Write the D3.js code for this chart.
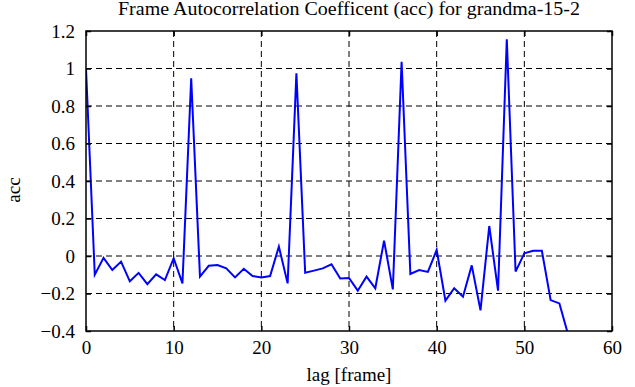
<!DOCTYPE html>
<html>
<head>
<meta charset="utf-8">
<script src="https://cdn.jsdelivr.net/npm/d3@7"></script>
<style>
  body { margin: 0; background: #fff; }
  text { font-family: "Liberation Serif", "Times New Roman", serif; fill: #000; }
</style>
</head>
<body>
<div id="chart"></div>
<script>
// lag values 0..55 and the autocorrelation
const lags = d3.range(0, 56)
const acc = [
  1.0, -0.10, -0.01, -0.075, -0.03, -0.135, -0.09, -0.15, -0.098, -0.128,
  -0.012, -0.146, 0.948, -0.11, -0.052, -0.048, -0.066, -0.114, -0.068, -0.107,
  -0.114, -0.107, 0.05, -0.146, 0.974, -0.089, -0.078, -0.066, -0.044, -0.12,
  -0.117, -0.185, -0.11, -0.172, 0.082, -0.178, 1.036, -0.096, -0.075, -0.085,
  0.032, -0.238, -0.172, -0.217, -0.05, -0.29, 0.16, -0.185, 1.156, -0.083,
  0.014, 0.028, 0.028, -0.235, -0.253, -0.42
]
const xTicks = [0, 10, 20, 30, 40, 50, 60]
const yTicks = [-0.4, -0.2, 0, 0.2, 0.4, 0.6, 0.8, 1, 1.2]

const width = 635
const height = 387
const margin = { top: 31, right: 23, bottom: 56, left: 86 }
const w = width - margin.left - margin.right
const h = height - margin.top - margin.bottom

const svg = d3.select('#chart').append('svg')
  .attr('width', width)
  .attr('height', height)

const x = d3.scaleLinear().domain([0, 60]).range([0, w])
const y = d3.scaleLinear().domain([-0.4, 1.2]).range([h, 0])

const g = svg.append('g')
  .attr('transform', `translate(${margin.left},${margin.top})`)

svg.append('defs').append('clipPath').attr('id', 'clip')
  .append('rect').attr('width', w).attr('height', h)

// dashed grid
g.append('g').selectAll('line')
  .data(xTicks.slice(1, -1))
  .join('line')
  .attr('x1', d => x(d)).attr('x2', d => x(d))
  .attr('y1', 0).attr('y2', h)
  .attr('stroke', '#000').attr('stroke-dasharray', '6,4')
g.append('g').selectAll('line')
  .data(yTicks.slice(1, -1))
  .join('line')
  .attr('x1', 0).attr('x2', w)
  .attr('y1', d => y(d)).attr('y2', d => y(d))
  .attr('stroke', '#000').attr('stroke-dasharray', '6,4')

// data line
const line = d3.line().x((d, i) => x(lags[i])).y(d => y(d))
g.append('path')
  .datum(acc)
  .attr('clip-path', 'url(#clip)')
  .attr('fill', 'none')
  .attr('stroke', '#0000ff')
  .attr('stroke-width', 2)
  .attr('d', line)

// axes with inward ticks on all sides
const fmt = d => d3.format('')(+d.toFixed(1))
const style = sel => {
  sel.select('.domain').remove()
  sel.selectAll('.tick line').attr('stroke', '#000').attr('stroke-width', 1.5)
  sel.selectAll('text').style('font-size', '19px').style('font-family', '"Liberation Serif", serif')
}
g.append('g').attr('transform', `translate(0,${h})`)
  .call(d3.axisBottom(x).tickValues(xTicks).tickSizeInner(-5).tickSizeOuter(0).tickPadding(10))
  .call(style)
g.append('g')
  .call(d3.axisTop(x).tickValues(xTicks).tickSizeInner(-5).tickSizeOuter(0).tickFormat(''))
  .call(style)
g.append('g')
  .call(d3.axisLeft(y).tickValues(yTicks).tickSizeInner(-5).tickSizeOuter(0).tickPadding(11).tickFormat(fmt))
  .call(style)
g.append('g').attr('transform', `translate(${w},0)`)
  .call(d3.axisRight(y).tickValues(yTicks).tickSizeInner(-5).tickSizeOuter(0).tickFormat(''))
  .call(style)

// frame
g.append('rect')
  .attr('width', w).attr('height', h)
  .attr('fill', 'none').attr('stroke', '#000').attr('stroke-width', 1.5)

svg.append('text')
  .attr('x', margin.left + w / 2).attr('y', 15)
  .attr('text-anchor', 'middle')
  .attr('textLength', 462)
  .attr('lengthAdjust', 'spacingAndGlyphs')
  .style('font-size', '18px')
  .text('Frame Autocorrelation Coefficent (acc) for grandma-15-2')

svg.append('text')
  .attr('x', margin.left + w / 2).attr('y', 381)
  .attr('text-anchor', 'middle')
  .style('font-size', '19px')
  .text('lag [frame]')

svg.append('text')
  .attr('transform', `translate(20,${margin.top + h / 2 + 9}) rotate(-90)`)
  .attr('text-anchor', 'middle')
  .style('font-size', '19px')
  .text('acc')
</script>
</body>
</html>
